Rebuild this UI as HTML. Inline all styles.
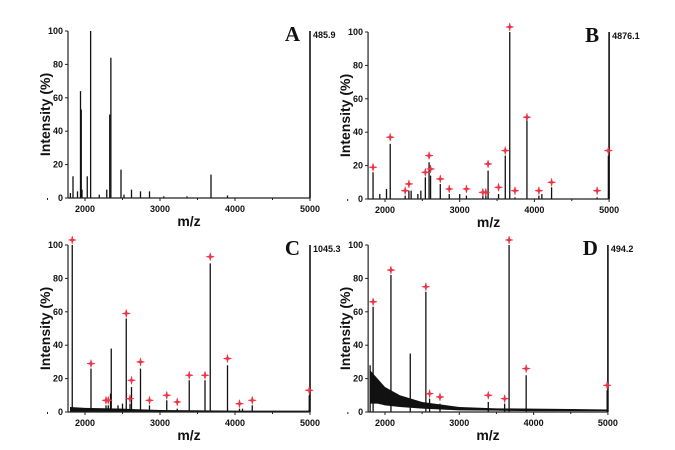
<!DOCTYPE html>
<html><head><meta charset="utf-8"><style>
html,body{margin:0;padding:0;background:#fff;}
svg{display:block;font-family:"Liberation Sans",Arial,sans-serif;}
</style></head><body>
<svg id="fig" width="675" height="450" viewBox="0 0 675 450"></svg>
<script>
// ---- data ----
const peaksA_mz = [1805,1840,1900,1940,1950,1960,2030,2075,2190,2290,2330,2345,2480,2520,2620,2740,2860,3050,3360,3680,3900];
const peaksA_int = [3,13,4,64,53,5,13,100,2,5,50,84,17,2,5,4,4,1,1,14,1.5];
const starsA_mz = [];
const starsA_int = [];

const peaksB_mz = [1840,1930,2020,2070,2270,2320,2350,2440,2480,2540,2590,2610,2740,2860,3000,3090,3310,3350,3380,3520,3610,3670,3740,3900,4060,4100,4230,4840,4990];
const peaksB_int = [16,3,6,33,2,5,5,3,5,13,22,14,9,3,3,2,2,2,17,3,26,100,1,48,2,3,7,1,26];
const starsB_mz = [1840,2070,2270,2320,2540,2590,2610,2740,2860,3090,3310,3350,3380,3520,3610,3670,3740,3900,4060,4230,4840,4990];
const starsB_int = [19,37,5,9,16,26,18,12,6,6,4,4,21,7,29,103,5,49,5,10,5,29];

const peaksC_mz = [1830,2080,2280,2310,2340,2350,2440,2500,2550,2600,2620,2740,2860,3090,3230,3390,3600,3670,3900,4060,4100,4230,4990];
const peaksC_int = [100,26,4,4,11,38,4,5,56,5,15,26,4,7,2,19,19,89,28,2,2,4,10];
const starsC_mz = [1830,2080,2280,2310,2550,2600,2620,2740,2860,3090,3230,3390,3600,3670,3900,4060,4230,4990];
const starsC_int = [103,29,7,7,59,8,19,30,7,10,6,22,22,93,32,5,7,13];

const peaksD_mz = [1800,1840,2080,2340,2550,2600,2740,3390,3610,3670,3900,4990];
const peaksD_int = [28,63,82,35,72,8,5,6,5,100,22,13];
const starsD_mz = [1840,2080,2550,2600,2740,3390,3610,3670,3900,4990];
const starsD_int = [66,85,75,11,9,10,8,103,26,16];

// noise band (D) and baseline (C)
const noiseD_mz = [1800,1900,2000,2200,2500,3000,3500,4000,4500,5000];
const noiseD_hi = [25,20,15,10,6,3,2.2,2,1.8,1.5];
const noiseD_lo = [5,5,4,3,2,1,0.8,0.5,0.5,0.5];
const noiseC_mz = [1800,2000,2500,3000,4000,5000];
const noiseC_hi = [3,2.5,2,1.2,0.8,0.8];
const noiseC_lo = [0,0,0,0,0,0];

const xTicks = [2000,3000,4000,5000];
const yTicks = [0,20,40,60,80,100];

const NS='http://www.w3.org/2000/svg';
const svg=document.getElementById('fig');
function el(tag,attrs,parent){const e=document.createElementNS(NS,tag);for(const k in attrs)e.setAttribute(k,attrs[k]);(parent||svg).appendChild(e);return e;}

function panel(cfg){
  const g=el('g',{});
  
  
  const xs=m=>cfg.x2000+(m-2000)*cfg.k;
  const ys=v=>cfg.yBot-(v/100)*(cfg.yBot-cfg.yTop);
  const xL=xs(1800)-2, xR=xs(5000);
  // noise band
  if(cfg.nmz){
    let pts=cfg.nmz.map((m,i)=>xs(m)+','+ys(cfg.nhi[i]));
    pts=pts.concat(cfg.nmz.slice().reverse().map((m,i)=>xs(m)+','+ys(cfg.nlo[cfg.nmz.length-1-i])));
    const p=el('polygon',{points:pts.join(' '),fill:'#111'},g);
    
    
  }
  // peaks
  cfg.pmz.forEach((m,i)=>{
    const l=el('line',{x1:xs(m),x2:xs(m),y1:cfg.yBot,y2:ys(cfg.pint[i]),stroke:'#111','stroke-width':1.3},g);
    
    
  });
  // axes
  el('line',{x1:xL,x2:xL,y1:cfg.yTop,y2:cfg.yBot,stroke:'#222','stroke-width':1.2},g);
  el('line',{x1:xL,x2:xR,y1:cfg.yBot,y2:cfg.yBot,stroke:'#222','stroke-width':1.2},g);
  const ra=el('line',{x1:xR,x2:xR,y1:cfg.yTop,y2:cfg.yBot,stroke:'#111','stroke-width':1.6},g);
  
  
  yTicks.forEach(v=>{
    el('line',{x1:xL-3,x2:xL,y1:ys(v),y2:ys(v),stroke:'#222'},g);
    const t=el('text',{x:xL-5,y:ys(v)+3,'font-size':9,'font-weight':'bold','text-anchor':'end',fill:'#111'},g);
    t.textContent=v;
    
    
  });
  xTicks.forEach(v=>{
    el('line',{x1:xs(v),x2:xs(v),y1:cfg.yBot,y2:cfg.yBot+3,stroke:'#222'},g);
    el('line',{x1:xs(v-500),x2:xs(v-500),y1:cfg.yBot,y2:cfg.yBot+2,stroke:'#222'},g);
    const t=el('text',{x:xs(v),y:cfg.yBot+14,'font-size':9,'font-weight':'bold','text-anchor':'middle',fill:'#111'},g);
    t.textContent=v;
    
    
  });
  // stars
  cfg.smz.forEach((m,i)=>{
    const sx=xs(m), sy=ys(cfg.sint[i]);
    const s=el('path',{d:`M${sx-4},${sy} L${sx},${sy-1} L${sx+4},${sy} L${sx},${sy+1} Z M${sx},${sy-4} L${sx+1},${sy} L${sx},${sy+4} L${sx-1},${sy} Z`,fill:'#ee3344',stroke:'#ee3344','stroke-width':0.6},g);
    
    
  });
  // labels
  const yl=el('text',{x:0,y:0,transform:`translate(${cfg.ylx},${(cfg.yTop+cfg.yBot)/2}) rotate(-90)`,'font-size':14,'font-weight':'bold','text-anchor':'middle',fill:'#111'},g);
  yl.textContent='Intensity (%)';
  
  
  const xl=el('text',{x:(xL+xR)/2,y:cfg.yBot+28,'font-size':14,'font-weight':'bold','text-anchor':'middle',fill:'#111'},g);
  xl.textContent='m/z';
  
  
  const lt=el('text',{x:xR-10,y:cfg.yTop+10,'font-size':21,'font-weight':'bold','font-family':'"Liberation Serif",serif','text-anchor':'end',fill:'#111'},g);
  lt.textContent=cfg.letter;
  
  
  const mx=el('text',{x:xR+3,y:cfg.yTop+7,'font-size':9,'font-weight':'bold',fill:'#111'},g);
  mx.textContent=cfg.max;
  
  
}

panel({letter:'A',max:'485.9',x2000:85,k:0.075,yTop:31,yBot:198,ylx:50,pmz:peaksA_mz,pint:peaksA_int,smz:starsA_mz,sint:starsA_int});
panel({letter:'B',max:'4876.1',x2000:385,k:0.0747,yTop:32,yBot:199,ylx:350,pmz:peaksB_mz,pint:peaksB_int,smz:starsB_mz,sint:starsB_int});
panel({letter:'C',max:'1045.3',x2000:85,k:0.075,yTop:245,yBot:412,ylx:50,pmz:peaksC_mz,pint:peaksC_int,smz:starsC_mz,sint:starsC_int,nmz:noiseC_mz,nhi:noiseC_hi,nlo:noiseC_lo});
panel({letter:'D',max:'494.2',x2000:385,k:0.0743,yTop:245,yBot:412,ylx:350,pmz:peaksD_mz,pint:peaksD_int,smz:starsD_mz,sint:starsD_int,nmz:noiseD_mz,nhi:noiseD_hi,nlo:noiseD_lo});
</script>
</body></html>
